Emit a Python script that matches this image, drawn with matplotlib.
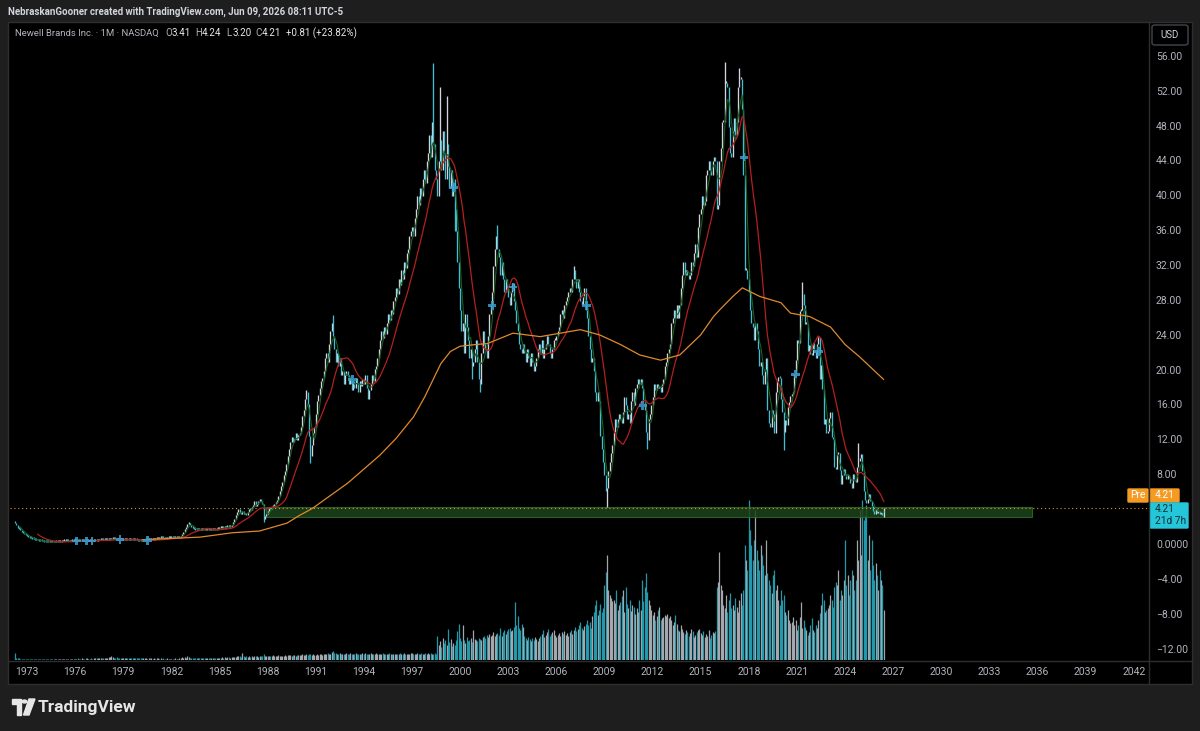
import numpy as np
import pandas as pd
import matplotlib
matplotlib.use("Agg")
import matplotlib.pyplot as plt
from matplotlib.patches import Rectangle, FancyBboxPatch, Polygon, Circle
from matplotlib import transforms

plt.rcParams['font.family'] = ['Roboto', 'DejaVu Sans']

# monthly closes, first bar = Apr 1972
START_YEAR, START_MONTH = 1972, 4
FIRST_OPEN = 2.6

close_70s = [
    2.5, 2.3, 2.0, 1.8, 1.7, 1.5, 1.4, 1.2, 1.1,
    1.0, 0.9, 0.85, 0.8, 0.7, 0.65, 0.6, 0.55, 0.52, 0.5, 0.45, 0.42,
    0.4, 0.38, 0.37, 0.35, 0.34, 0.33, 0.32, 0.3, 0.29, 0.31, 0.33, 0.32,
    0.35, 0.38, 0.4, 0.42, 0.44, 0.44, 0.42, 0.41, 0.4, 0.42, 0.44, 0.45,
    0.47, 0.5, 0.49, 0.47, 0.46, 0.48, 0.5, 0.48, 0.46, 0.48, 0.5, 0.51,
    0.5, 0.49, 0.52, 0.53, 0.51, 0.52, 0.55, 0.57, 0.55, 0.53, 0.55, 0.57,
    0.57, 0.59, 0.63, 0.65, 0.69, 0.67, 0.65, 0.63, 0.61, 0.57, 0.55, 0.57,
    0.59, 0.61, 0.63, 0.61, 0.59, 0.61, 0.59, 0.57, 0.59, 0.55, 0.53, 0.51,
]
close_80s = [
    0.5, 0.48, 0.46, 0.5, 0.52, 0.54, 0.56, 0.58, 0.56, 0.58, 0.6, 0.62,
    0.66, 0.7, 0.74, 0.78, 0.8, 0.78, 0.76, 0.74, 0.72, 0.75, 0.78, 0.8,
    0.82, 0.8, 0.78, 0.8, 0.82, 0.8, 0.85, 0.95, 1.2, 1.5, 1.8, 2.1,
    2.4, 2.5, 2.3, 2.1, 1.9, 1.8, 1.75, 1.7, 1.8, 1.75, 1.7, 1.72,
    1.7, 1.68, 1.72, 1.75, 1.7, 1.68, 1.72, 1.8, 1.78, 1.75, 1.8, 1.85,
    1.9, 1.95, 2.0, 1.95, 2.0, 2.05, 2.1, 2.05, 2.1, 2.3, 2.6, 3.0,
    3.4, 3.8, 4.1, 3.7, 3.5, 3.9, 3.5, 3.6, 3.4, 3.8, 4.1, 4.0,
    4.3, 4.6, 5.0, 4.5, 4.7, 5.0, 5.3, 5.0, 4.7, 3.0, 3.3, 3.6,
    3.9, 4.2, 4.1, 4.4, 4.5, 4.7, 4.8, 5.2, 5.6, 6.2, 6.8, 7.2,
    8.0, 8.5, 9.3, 10.2, 11.0, 11.8, 12.4, 11.8, 12.2, 12.8, 12.0, 12.6,
]
close_90s = [
    12.8, 13.5, 14.8, 15.5, 16.8, 17.5, 16.2, 12.5, 10.2, 11.5, 12.8, 13.5,
    15.0, 16.5, 17.2, 18.0, 18.8, 19.2, 20.0, 21.5, 22.0, 21.0, 23.0, 24.5,
    25.5, 24.0, 22.5, 21.0, 22.0, 20.5, 21.5, 19.5, 20.0, 18.5, 19.5, 20.0,
    19.5, 18.5, 19.0, 17.8, 18.8, 18.0, 19.2, 18.6, 17.5, 18.8, 18.2, 19.0,
    18.5, 19.5, 18.0, 16.8, 17.8, 18.5, 19.5, 18.8, 20.2, 20.5, 21.5, 22.5,
    23.5, 24.5, 23.8, 25.0, 24.2, 25.5, 26.5, 25.8, 27.0, 26.5, 28.0, 28.5,
    29.5, 28.8, 30.5, 29.8, 31.5, 30.5, 32.5, 31.8, 33.5, 34.0, 35.5, 36.0,
    36.5, 35.5, 37.5, 38.5, 40.0, 39.0, 41.0, 40.0, 42.0, 43.0, 41.5, 44.0,
    45.0, 47.0, 44.5, 48.5, 46.0, 43.0, 42.0, 40.0, 44.0, 46.5, 43.0, 47.5,
    45.0, 42.0, 46.0, 43.5, 41.0, 43.0, 40.0, 42.0, 38.5, 36.0, 32.5, 29.5,
]
close_00s = [
    27.0, 24.5, 25.5, 22.0, 26.5, 25.0, 23.5, 21.5, 22.5, 20.5, 21.0, 22.5,
    23.5, 21.0, 19.0, 18.5, 22.0, 24.5, 23.0, 22.5, 21.5, 24.0, 26.5, 27.5,
    29.0, 32.0, 34.0, 35.5, 34.0, 33.0, 31.0, 32.5, 30.5, 29.0, 30.5, 29.5,
    28.5, 27.5, 29.0, 30.0, 28.0, 27.0, 25.5, 24.5, 23.0, 22.5, 22.0, 23.0,
    22.0, 21.0, 22.5, 21.5, 20.5, 22.0, 21.0, 20.0, 20.5, 21.5, 22.5, 23.0,
    22.0, 23.5, 21.5, 22.5, 23.0, 24.0, 23.0, 22.0, 21.5, 22.5, 23.5, 23.5,
    24.0, 24.5, 25.0, 26.5, 27.0, 26.0, 27.5, 28.0, 28.5, 29.0, 29.5, 29.0,
    30.5, 31.5, 30.5, 29.5, 30.5, 29.0, 28.0, 27.5, 28.5, 29.5, 27.0, 26.0,
    24.0, 22.5, 21.0, 21.5, 20.0, 17.5, 16.5, 17.5, 16.5, 12.5, 11.0, 9.5,
    8.0, 6.2, 6.5, 8.5, 9.5, 10.5, 11.5, 13.0, 14.5, 13.5, 14.5, 15.0,
]
close_10s = [
    14.5, 14.0, 15.2, 17.0, 16.0, 14.5, 15.0, 14.0, 16.5, 17.5, 16.0, 18.0,
    18.5, 19.0, 18.5, 19.0, 18.0, 16.5, 15.5, 13.0, 12.0, 14.5, 15.0, 16.0,
    17.0, 18.5, 17.8, 18.5, 18.0, 18.2, 17.5, 18.5, 19.0, 20.5, 21.0, 22.0,
    22.5, 23.0, 25.5, 26.0, 27.0, 26.0, 27.5, 26.0, 27.5, 29.5, 31.0, 32.5,
    31.0, 31.5, 31.0, 30.5, 31.0, 32.5, 32.0, 33.5, 34.5, 33.0, 36.5, 38.0,
    38.5, 40.0, 39.0, 39.5, 42.5, 43.0, 44.0, 43.0, 42.5, 44.0, 44.5, 44.0,
    38.5, 39.0, 44.0, 45.5, 48.5, 48.5, 53.0, 53.0, 52.5, 48.0, 45.0, 44.5,
    47.5, 49.0, 47.0, 48.5, 52.5, 53.5, 53.5, 50.0, 42.5, 31.5, 31.5, 30.5,
    29.0, 27.0, 25.5, 25.0, 23.5, 25.5, 24.5, 22.5, 20.5, 21.0, 19.5, 18.5,
    20.0, 21.5, 15.5, 14.0, 13.5, 15.5, 15.0, 12.8, 17.5, 18.8, 19.3, 19.2,
]
close_20s = [
    16.8, 15.3, 13.0, 14.3, 13.8, 15.8, 16.4, 17.1, 17.2, 17.6, 19.6, 21.2,
    23.5, 23.2, 26.8, 27.0, 28.8, 27.5, 25.4, 25.4, 22.3, 22.9, 21.9, 21.8,
    23.2, 22.3, 21.4, 23.1, 23.9, 19.0, 20.6, 17.9, 13.9, 14.5, 12.8, 13.1,
    14.6, 15.2, 12.4, 12.1, 9.0, 8.7, 10.4, 10.5, 8.6, 7.0, 8.0, 8.7,
    8.1, 7.6, 8.0, 7.7, 7.1, 6.5, 8.1, 7.6, 7.2, 8.9, 9.6, 10.0,
    10.4, 8.5, 6.2, 5.2, 4.8, 5.3, 5.8, 5.0, 4.5, 3.9, 3.6, 4.1,
    3.7, 3.9, 3.6, 3.8, 3.41, 4.21,
]

# monthly volume (millions)
vol_70s = [
    14, 5, 4, 4, 3, 3, 3, 3, 3,
    3, 3, 3, 2, 3, 3, 2, 3, 3, 3, 2, 3,
    3, 2, 3, 3, 2, 3, 3, 2, 3, 3, 3, 2,
    3, 3, 2, 3, 3, 3, 2, 3, 3, 2, 3, 3,
    3, 3, 4, 3, 3, 4, 3, 3, 4, 4, 3, 3,
    4, 3, 4, 4, 5, 4, 4, 5, 4, 4, 5, 4,
    5, 6, 7, 8, 6, 5, 5, 6, 5, 4, 5, 5,
    4, 5, 5, 4, 4, 5, 4, 4, 5, 4, 4, 4,
]
vol_80s = [
    4, 4, 5, 4, 4, 4, 3, 4, 4, 4, 3, 4,
    3, 4, 4, 3, 4, 3, 4, 3, 3, 4, 3, 3,
    3, 3, 3, 4, 3, 3, 4, 5, 6, 5, 6, 5,
    8, 6, 5, 5, 4, 5, 4, 5, 4, 4, 5, 4,
    4, 4, 5, 4, 4, 5, 4, 4, 5, 4, 5, 4,
    5, 5, 6, 5, 6, 5, 6, 6, 5, 6, 7, 6,
    7, 8, 9, 8, 7, 14, 8, 7, 8, 7, 8, 7,
    8, 7, 8, 9, 8, 7, 8, 9, 8, 12, 9, 8,
    8, 9, 8, 9, 10, 9, 8, 9, 10, 9, 8, 9,
    9, 10, 9, 10, 11, 10, 9, 11, 10, 9, 10, 11,
]
vol_90s = [
    10, 11, 12, 11, 10, 12, 11, 13, 12, 11, 12, 11,
    11, 12, 11, 13, 12, 11, 12, 13, 12, 14, 13, 12,
    16, 18, 15, 14, 13, 12, 14, 13, 12, 13, 12, 14,
    13, 12, 14, 13, 12, 13, 14, 12, 13, 12, 13, 14,
    13, 14, 12, 13, 12, 14, 13, 12, 13, 14, 12, 13,
    13, 12, 14, 13, 12, 13, 12, 14, 13, 12, 13, 12,
    12, 13, 12, 14, 13, 12, 14, 13, 12, 13, 12, 14,
    14, 13, 12, 13, 14, 12, 13, 14, 12, 13, 14, 13,
    14, 13, 14, 12, 13, 14, 13, 48, 30, 38, 26, 44,
    34, 40, 30, 62, 36, 42, 28, 34, 30, 40, 58, 72,
]
vol_00s = [
    44, 38, 70, 40, 34, 46, 38, 40, 44, 36, 60, 42,
    40, 38, 44, 42, 40, 46, 48, 44, 50, 46, 52, 48,
    50, 56, 48, 52, 54, 50, 64, 48, 56, 60, 52, 58,
    62, 64, 58, 60, 66, 116, 70, 88, 64, 60, 72, 66,
    48, 44, 40, 46, 42, 38, 44, 40, 46, 42, 38, 44,
    48, 52, 60, 46, 50, 56, 62, 48, 52, 56, 60, 50,
    46, 50, 54, 48, 56, 52, 58, 50, 54, 48, 56, 60,
    52, 60, 66, 58, 62, 70, 76, 64, 60, 68, 72, 80,
    70, 76, 64, 88, 96, 110, 120, 90, 100, 112, 96, 104,
    150, 176, 210, 140, 130, 124, 118, 120, 114, 140, 100, 110,
]
vol_10s = [
    116, 128, 140, 96, 146, 112, 104, 120, 98, 110, 106, 92,
    104, 96, 120, 100, 160, 118, 146, 174, 136, 120, 110, 100,
    90, 96, 80, 88, 100, 106, 80, 84, 86, 90, 88, 92,
    84, 88, 80, 70, 76, 90, 72, 60, 58, 70, 62, 56,
    52, 60, 56, 48, 54, 62, 58, 46, 50, 56, 60, 62,
    54, 50, 58, 46, 52, 48, 60, 44, 50, 56, 54, 58,
    146, 156, 216, 150, 140, 110, 104, 130, 96, 120, 134, 104,
    110, 100, 124, 106, 96, 120, 134, 110, 140, 230, 200, 180,
    320, 260, 230, 200, 240, 300, 220, 200, 180, 230, 210, 190,
    170, 240, 174, 160, 150, 134, 170, 180, 140, 150, 120, 110,
]
vol_20s = [
    140, 120, 130, 96, 90, 100, 80, 74, 76, 86, 70, 80,
    60, 70, 86, 116, 64, 80, 66, 60, 50, 56, 70, 84,
    60, 56, 70, 64, 80, 94, 110, 134, 120, 96, 100, 104,
    110, 130, 120, 106, 146, 156, 150, 180, 120, 140, 130, 160,
    240, 150, 170, 130, 160, 180, 170, 140, 160, 240, 200, 300,
    210, 320, 280, 290, 310, 200, 250, 180, 240, 190, 160, 194,
    170, 140, 180, 160, 150, 100,
]

# notable wicks (year, month, price)
wick_highs = [(1983, 2, 2.6), (1990, 6, 17.8), (1992, 2, 26.4), (1998, 5, 55.3),
              (1998, 10, 52.5), (1999, 3, 51.5), (2002, 5, 36.7), (2007, 2, 32.0),
              (2016, 7, 55.4), (2017, 6, 54.7), (2021, 5, 30.2), (2024, 11, 11.7),
              (2026, 6, 4.24)]
wick_lows = [(1987, 10, 2.6), (1990, 9, 9.4), (1999, 9, 36.0), (2000, 10, 19.0),
             (2001, 4, 17.6), (2009, 3, 4.4), (2011, 9, 11.0), (2020, 3, 10.9),
             (2026, 6, 3.20)]

# long moving average
orange_t = [1980.2, 1983.8, 1985.8, 1987.5, 1989.2, 1990.0, 1990.8, 1993.0, 1995.0,
            1996.0, 1997.1, 1997.8, 1998.3, 1998.8, 1999.4, 2000.0, 2001.0, 2001.7,
            2003.3, 2005.0, 2007.5, 2008.7, 2010.0, 2011.2, 2012.5, 2013.7, 2015.0,
            2015.8, 2016.2, 2017.0, 2017.6, 2018.7, 2020.0, 2020.6, 2021.8, 2023.1,
            2024.0, 2024.9, 2026.4]
orange_v = [0.6, 0.9, 1.4, 1.6, 2.5, 3.4, 4.2, 7.1, 10.3,
            12.2, 14.7, 17.0, 18.9, 20.8, 22.2, 22.8, 23.0, 23.1,
            24.3, 23.9, 24.7, 24.1, 23.0, 21.8, 21.2, 21.8, 24.1,
            26.2, 27.0, 28.5, 29.5, 28.5, 27.8, 26.6, 26.2, 25.0,
            23.0, 21.6, 19.0]

# dividend / event markers
event_t = [1976.1, 1976.7, 1977.05, 1978.8, 1980.5, 1993.3, 1999.6, 2002.0, 2003.3,
           2007.9, 2011.4, 2017.7, 2020.9, 2022.33]
event_v = [0.45, 0.45, 0.45, 0.65, 0.5, 19.0, 41.0, 27.5, 29.6,
           27.5, 16.0, 44.5, 19.6, 22.2]

year_ticks = list(range(1973, 2043, 3))
price_ticks = [56, 52, 48, 44, 40, 36, 32, 28, 24, 20, 16, 12, 8, 0, -4, -8, -12]
price_tick_labels = ['56.00', '52.00', '48.00', '44.00', '40.00', '36.00', '32.00',
                     '28.00', '24.00', '20.00', '16.00', '12.00', '8.00', '0.0000',
                     '\u22124.00', '\u22128.00', '\u221212.00']

W, H = 1200, 731
UP = '#d1d4dc'
DOWN = '#3fbfd4'
VOL_UP = '#b4b8c0'
VOL_DOWN = '#26a9bd'
TXT = '#b2b5be'


def fp(x, y):
    return x / W, 1 - y / H


def box(fig, x0, y0, x1, y1, color, ec=None, r=2):
    fx, fy = fp(x0, y1)
    fig.add_artist(FancyBboxPatch((fx, fy), (x1 - x0) / W, (y1 - y0) / H,
                                  boxstyle=f"round,pad=0,rounding_size={r / W}",
                                  transform=fig.transFigure, facecolor=color,
                                  edgecolor=ec if ec else color, lw=1))


closes = np.array(close_70s + close_80s + close_90s + close_00s + close_10s + close_20s)
volume = np.array(vol_70s + vol_80s + vol_90s + vol_00s + vol_10s + vol_20s)
n = len(closes)
t = START_YEAR + (START_MONTH - 1 + np.arange(n)) / 12.0
opens = np.r_[FIRST_OPEN, closes[:-1]]
hi = np.maximum(opens, closes)
lo = np.minimum(opens, closes)


def idx(y, m):
    return (y - START_YEAR) * 12 + (m - START_MONTH)


for y, m, v in wick_highs:
    hi[idx(y, m)] = max(hi[idx(y, m)], v)
for y, m, v in wick_lows:
    lo[idx(y, m)] = min(lo[idx(y, m)], v)
hi = np.maximum(hi, lo + 0.22)
up = closes >= opens
colors = np.where(up, UP, DOWN)
vcolors = np.where(up, VOL_UP, VOL_DOWN)

s = pd.Series(closes)
red_ma = s.rolling(18).mean()
green_ma = s.rolling(5).mean()

fig = plt.figure(figsize=(W / 100, H / 100), dpi=100, facecolor='#1e1e1e')

# black chart panel
fig.add_artist(Rectangle(fp(8, 684), 1184 / W, 662 / H, transform=fig.transFigure,
                         facecolor='black', edgecolor='#2e2e2e', lw=1, zorder=0))

rect = [10 / W, 1 - 660 / H, 1138 / W, 638 / H]
xlim = (1971.94, 2042.89)
ylim = (-13.2, 60.0)

vax = fig.add_axes(rect, zorder=1)
vax.set_facecolor('black')
vax.vlines(t, 0, volume, colors=vcolors, lw=0.9, alpha=0.9)
vax.set_xlim(xlim)
vax.set_ylim(0, 1276)
vax.axis('off')

ax = fig.add_axes(rect, zorder=2)
ax.patch.set_visible(False)
ax.set_xlim(xlim)
ax.set_ylim(ylim)
ax.axis('off')

# support zone and last price line
ax.add_patch(Rectangle((1987.9, 3.2), 2035.66 - 1987.9, 1.2, facecolor='#1d441c',
                       edgecolor='#2f6a2a', lw=0.8, alpha=0.85, zorder=1))
ax.axhline(4.21, color='#d99a2b', lw=0.8, ls=(0, (1, 2.5)), zorder=1)

ax.vlines(t, lo, hi, colors=colors, lw=0.95, zorder=3)
ax.plot(t, green_ma, color='#1b5e20', lw=0.8, zorder=4)
ax.plot(t, red_ma, color='#b3201f', lw=0.9, zorder=4)
ax.plot(orange_t, orange_v, color='#e08a2c', lw=0.9, zorder=4)
ax.scatter(event_t, event_v, marker='P', s=38, color='#3b9fd3', alpha=0.85,
           edgecolor='none', zorder=5)

# separators
fig.add_artist(plt.Line2D([1149 / W, 1149 / W], [1 - 22 / H, 1 - 684 / H],
                          transform=fig.transFigure, color='#2e2e2e', lw=1))
fig.add_artist(plt.Line2D([8 / W, 1192 / W], [1 - 661 / H, 1 - 661 / H],
                          transform=fig.transFigure, color='#2e2e2e', lw=1))

# price axis labels
ytr = transforms.blended_transform_factory(fig.transFigure, ax.transData)
for v, lab in zip(price_ticks, price_tick_labels):
    fig.text(1156 / W, v, lab, transform=ytr, color=TXT, fontsize=7.5,
             va='center', ha='left')

# time axis labels
xtr = transforms.blended_transform_factory(ax.transData, fig.transFigure)
for yr in year_ticks:
    fig.text(yr, 1 - 672 / H, str(yr), transform=xtr, color=TXT, fontsize=7.5,
             ha='center', va='center')

# header and legend
fig.text(*fp(8, 12), 'NebraskanGooner created with TradingView.com, Jun 09, 2026 08:11 UTC-5',
         color='#d1d4dc', fontsize=7, fontweight='bold', va='center')
fig.text(*fp(15, 33), 'Newell Brands Inc. \u00b7 1M \u00b7 NASDAQ', color=TXT,
         fontsize=6.8, va='center')
for x, lab, val in [(165, 'O', '3.41'), (195, 'H', '4.24'), (226, 'L', '3.20'),
                    (255, 'C', '4.21')]:
    fig.text(*fp(x, 33), lab, color=TXT, fontsize=7, va='center')
    fig.text(*fp(x + 6.5, 33), val, color='#e6e8ec', fontsize=7, va='center')
fig.text(*fp(286, 33), '+0.81 (+23.82%)', color='#e6e8ec', fontsize=7, va='center')

# USD box
box(fig, 1152, 25, 1188, 45, 'black', ec='#434651', r=3)
fig.text(*fp(1170, 35), 'USD', color='#d1d4dc', fontsize=7, ha='center', va='center')

# last price labels
box(fig, 1128, 489, 1148, 502, '#f59a23', r=1)
fig.text(*fp(1138, 495.5), 'Pre', color='white', fontsize=7.3, ha='center', va='center')
box(fig, 1150, 489, 1179, 502, '#f59a23', r=1)
fig.text(*fp(1155, 495.5), '4.21', color='white', fontsize=7.3, va='center')
box(fig, 1150, 503, 1188, 528, '#26c6da', r=1)
fig.text(*fp(1155, 509.5), '4.21', color='#0f2f35', fontsize=7.3, va='center')
fig.text(*fp(1155, 521), '21d 7h', color='#0f2f35', fontsize=7.3, va='center')

# TradingView footer logo
fig.add_artist(Polygon([fp(12, 699), fp(21, 699), fp(21, 715), fp(16.5, 715),
                        fp(16.5, 703.5), fp(12, 703.5)], closed=True,
                       transform=fig.transFigure, color='#e6e6e6'))
fig.add_artist(Circle(fp(24.5, 701.5), 2.4 / W, transform=fig.transFigure,
                      color='#e6e6e6'))
fig.add_artist(Polygon([fp(29, 699), fp(35, 699), fp(29, 715), fp(23.5, 715)],
                       closed=True, transform=fig.transFigure, color='#e6e6e6'))
fig.text(*fp(38, 707.5), 'TradingView', color='#e6e6e6', fontsize=12.5,
         fontweight='bold', va='center')

fig.savefig('out.png', dpi=100, facecolor=fig.get_facecolor())
